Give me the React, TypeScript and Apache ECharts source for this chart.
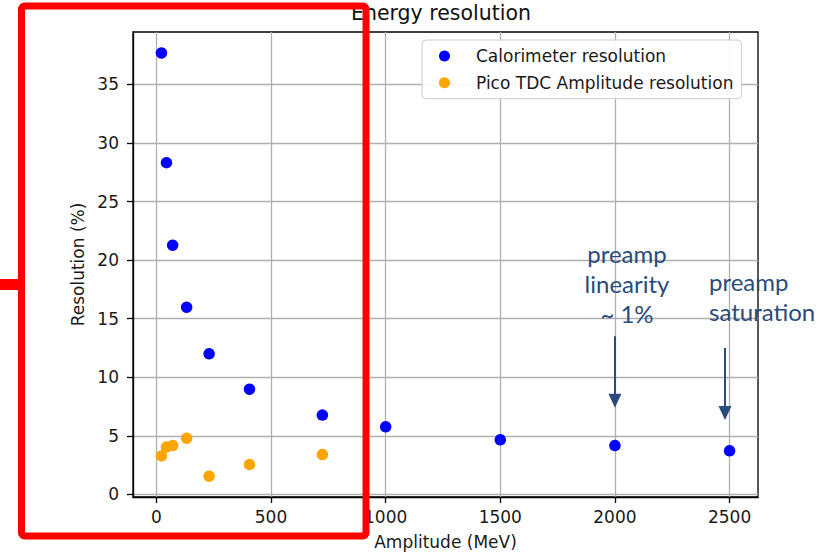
import React, { useEffect, useRef } from "react";
import * as echarts from "echarts";

// Beam energies (MeV) at which both resolutions were measured
const energies = [22, 44, 71, 132, 230, 406, 724, 1000, 1500, 2000, 2500];
const calorimeterRes = [37.68, 28.32, 21.27, 15.98, 12.0, 8.98, 6.77, 5.77, 4.66, 4.17, 3.72];
const picoEnergies = [22, 44, 71, 132, 230, 406, 724];
const picoRes = [3.29, 4.04, 4.17, 4.8, 1.56, 2.55, 3.4];

const xTicks = [0, 500, 1000, 1500, 2000, 2500];
const yTicks = [0, 5, 10, 15, 20, 25, 30, 35];

// Arrow annotations: [x, start y, end y] in data units
const linearityArrow = [2000, 13.5, 8.0];
const saturationArrow = [2480, 12.5, 6.95];

const FONT = "DejaVu Sans";
const NOTE_COLOR = "#2a4b7c";

export default function App() {
  const ref = useRef<HTMLDivElement>(null);

  useEffect(() => {
    if (!ref.current) return;
    document.body.style.margin = "0";
    const chart = echarts.init(ref.current, null, { renderer: "svg" });

    const arrow = (a: number[]) => [
      { coord: [a[0], a[1]] },
      { coord: [a[0], a[2]] },
    ];

    chart.setOption({
      animation: false,
      backgroundColor: "#ffffff",
      textStyle: { fontFamily: FONT },
      title: {
        text: "Energy resolution",
        left: 441,
        top: 2,
        padding: 0,
        textAlign: "center",
        textStyle: { fontFamily: FONT, fontSize: 20.5, fontWeight: "normal", color: "#111" },
      },
      grid: {
        left: 133,
        top: 32,
        right: 81,
        bottom: 55,
        outerBoundsMode: "none",
        containLabel: false,
        show: true,
        borderColor: "#000",
        borderWidth: 1.3,
        backgroundColor: "transparent",
      },
      legend: {
        orient: "vertical",
        left: 422,
        top: 40,
        padding: [6, 8, 6, 17],
        itemGap: 6.7,
        itemWidth: 11,
        itemHeight: 11,
        icon: "circle",
        backgroundColor: "rgba(255,255,255,0.9)",
        borderColor: "#cccccc",
        borderWidth: 1,
        borderRadius: 4,
        textStyle: {
          fontFamily: FONT,
          fontSize: 17,
          color: "#1a1a1a",
          lineHeight: 20,
          padding: [0, 0, 0, 21],
        },
        data: ["Calorimeter resolution", "Pico TDC Amplitude resolution"],
      },
      xAxis: {
        type: "value",
        min: -102,
        max: 2624,
        name: "Amplitude (MeV)",
        nameLocation: "middle",
        nameGap: 36,
        nameTextStyle: { fontFamily: FONT, fontSize: 17, color: "#1a1a1a" },
        axisLine: { show: true, onZero: false, lineStyle: { color: "#000", width: 1.3 } },
        axisTick: { show: true, length: 6, customValues: xTicks, lineStyle: { color: "#000", width: 1.3 } },
        axisLabel: {
          customValues: xTicks,
          margin: 11,
          fontFamily: FONT,
          fontSize: 17,
          color: "#1a1a1a",
          formatter: (v: number) => String(v),
        },
        splitLine: { show: true, lineStyle: { color: "#b0b0b0", width: 1.3 } },
      },
      yAxis: {
        type: "value",
        min: -0.22,
        max: 39.47,
        name: "Resolution (%)",
        nameLocation: "middle",
        nameGap: 38,
        nameTextStyle: { fontFamily: FONT, fontSize: 17, color: "#1a1a1a" },
        axisLine: { show: true, onZero: false, lineStyle: { color: "#000", width: 1.3 } },
        axisTick: { show: true, length: 6, customValues: yTicks, lineStyle: { color: "#000", width: 1.3 } },
        axisLabel: {
          customValues: yTicks,
          margin: 14,
          fontFamily: FONT,
          fontSize: 17,
          color: "#1a1a1a",
          formatter: (v: number) => String(v),
        },
        splitLine: { show: true, lineStyle: { color: "#b0b0b0", width: 1.3 } },
      },
      series: [
        {
          name: "Calorimeter resolution",
          type: "scatter",
          symbolSize: 11.5,
          itemStyle: { color: "#0000ff", opacity: 1 },
          data: energies.map((e, i) => [e, calorimeterRes[i]]),
          z: 3,
          markLine: {
            silent: true,
            symbol: ["none", "triangle"],
            symbolSize: [13, 14],
            label: { show: false },
            lineStyle: { color: NOTE_COLOR, width: 2, type: "solid" },
            data: [arrow(linearityArrow), arrow(saturationArrow)],
          },
        },
        {
          name: "Pico TDC Amplitude resolution",
          type: "scatter",
          symbolSize: 11.5,
          itemStyle: { color: "#ffa500", opacity: 1 },
          data: picoEnergies.map((e, i) => [e, picoRes[i]]),
          z: 3,
        },
      ],
      graphic: [
        {
          type: "text",
          x: 627,
          y: 238,
          z: 50,
          style: {
            text: "preamp\nlinearity\n~ 1%",
            fontFamily: "Lato",
            fontSize: 24,
            lineHeight: 30,
            fill: NOTE_COLOR,
            align: "center",
            verticalAlign: "top",
          },
        },
        {
          type: "text",
          x: 709,
          y: 266,
          z: 50,
          style: {
            text: "preamp\nsaturation",
            fontFamily: "Lato",
            fontSize: 24,
            lineHeight: 30,
            fill: NOTE_COLOR,
            align: "left",
            verticalAlign: "top",
          },
        },
        {
          type: "rect",
          z: 100,
          shape: { x: 21.5, y: 6, width: 344.5, height: 530, r: 3 },
          style: { fill: "none", stroke: "#ff0000", lineWidth: 7 },
        },
        {
          type: "line",
          z: 100,
          shape: { x1: 0, y1: 284.5, x2: 21, y2: 284.5 },
          style: { stroke: "#ff0000", lineWidth: 11 },
        },
      ],
    });

    return () => chart.dispose();
  }, []);

  return <div ref={ref} style={{ width: 839, height: 552 }} />;
}
